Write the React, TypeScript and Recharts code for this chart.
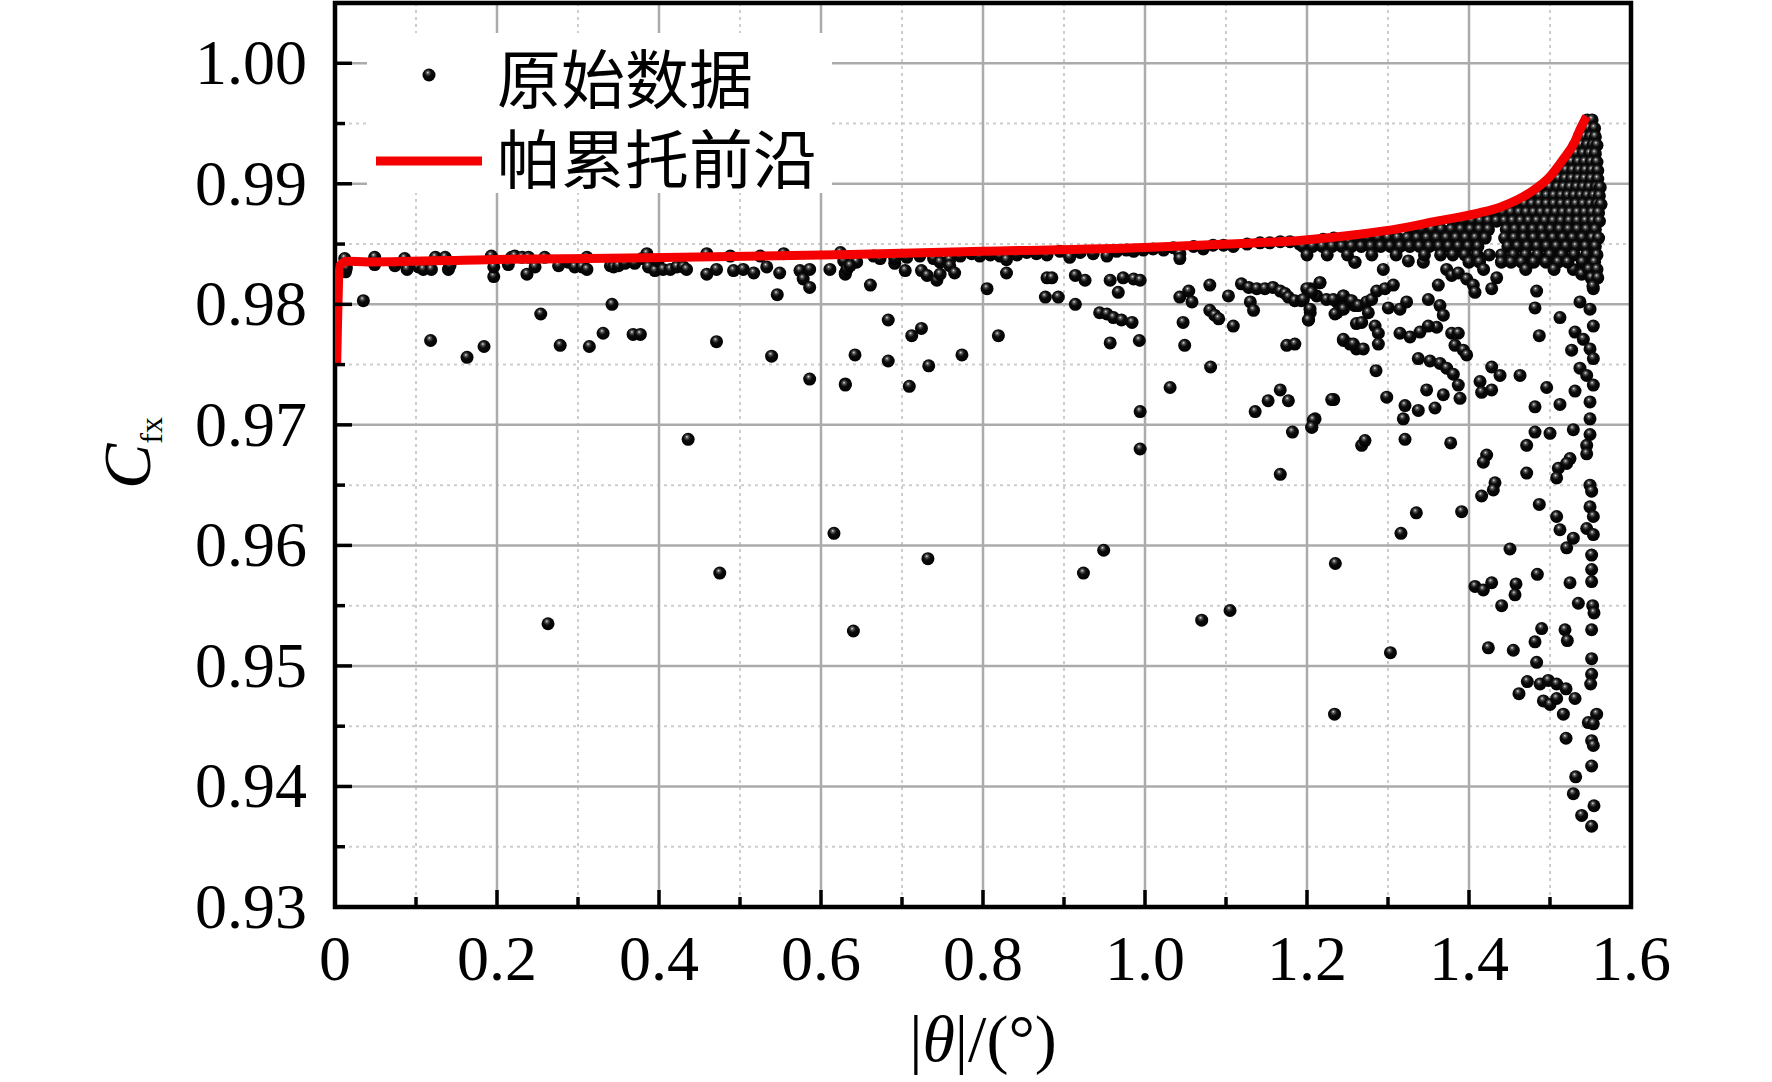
import React from "react";
import { ComposedChart, Scatter, XAxis, YAxis, CartesianGrid, ReferenceArea, Legend } from "recharts";

const W = 1772;
const H = 1082;
const SERIF = "'Liberation Serif', 'Times New Roman', serif";
const CJK = "'Noto Sans CJK SC', 'Noto Sans', sans-serif";
const RED = "#f50000";

const xMajorTicks = [0, 0.2, 0.4, 0.6, 0.8, 1.0, 1.2, 1.4, 1.6];
const xTickLabels = ["0", "0.2", "0.4", "0.6", "0.8", "1.0", "1.2", "1.4", "1.6"];
const xMinorTicks = [0.1, 0.3, 0.5, 0.7, 0.9, 1.1, 1.3, 1.5];
const yMajorTicks = [0.93, 0.94, 0.95, 0.96, 0.97, 0.98, 0.99, 1.0];
const yTickLabels = ["0.93", "0.94", "0.95", "0.96", "0.97", "0.98", "0.99", "1.00"];
const yMinorTicks = [0.935, 0.945, 0.955, 0.965, 0.975, 0.985, 0.995];

const legendLabels = ["原始数据", "帕累托前沿"];

// Pareto front (red curve)
const frontTheta = [0.002, 0.006, 0.015, 0.04, 0.2, 0.407, 0.636, 0.8, 1.0, 1.1, 1.191, 1.265, 1.315, 1.36, 1.41, 1.44, 1.475, 1.5, 1.516, 1.53, 1.537, 1.5453];
const frontCfx = [0.9749, 0.9832, 0.98358, 0.98352, 0.98372, 0.98388, 0.98413, 0.9844, 0.98471, 0.985, 0.9853, 0.98581, 0.9863, 0.9869, 0.98755, 0.9881, 0.98926, 0.9906, 0.992, 0.9934, 0.99449, 0.99559];

// points hugging the front, 0 - 0.64
const bandLeft: [number, number][] = [
  [0.012, 0.9838], [0.013, 0.9827], [0.014, 0.983], [0.049, 0.9839], [0.049, 0.9833], [0.074, 0.9832], [0.086, 0.9838],
  [0.089, 0.9829], [0.103, 0.9831], [0.109, 0.9829], [0.119, 0.9829], [0.124, 0.9839], [0.136, 0.9839], [0.14, 0.9829],
  [0.142, 0.9832], [0.193, 0.984], [0.196, 0.9823], [0.196, 0.9831], [0.214, 0.9833], [0.218, 0.9839], [0.222, 0.984],
  [0.231, 0.9839], [0.237, 0.9825], [0.239, 0.9839], [0.247, 0.9831], [0.259, 0.9839], [0.276, 0.9832], [0.288, 0.9835],
  [0.296, 0.9831], [0.305, 0.9831], [0.311, 0.9829], [0.311, 0.9839], [0.34, 0.9832], [0.344, 0.9831], [0.35, 0.9832],
  [0.358, 0.9834], [0.37, 0.9834], [0.379, 0.9838], [0.385, 0.9842], [0.387, 0.9831], [0.395, 0.9828], [0.399, 0.9836],
  [0.405, 0.9829], [0.414, 0.9829], [0.422, 0.9831], [0.43, 0.9831], [0.434, 0.9829], [0.459, 0.9825], [0.459, 0.9842],
  [0.471, 0.9829], [0.488, 0.984], [0.492, 0.9828], [0.504, 0.9829], [0.517, 0.9826], [0.525, 0.984], [0.533, 0.9831],
  [0.549, 0.9826], [0.554, 0.9842], [0.574, 0.9828], [0.578, 0.9821], [0.586, 0.9829], [0.611, 0.9829], [0.624, 0.9843],
  [0.63, 0.9826],
];

// points hugging the front, 0.63 - 1.26
const bandMid: [number, number][] = [
  [0.628, 0.9836], [0.644, 0.9835], [0.665, 0.984], [0.673, 0.9838], [0.691, 0.9834], [0.706, 0.9839], [0.722, 0.984],
  [0.739, 0.9838], [0.747, 0.9835], [0.759, 0.9837], [0.772, 0.984], [0.786, 0.9842], [0.796, 0.984], [0.809, 0.9841],
  [0.821, 0.984], [0.829, 0.9837], [0.842, 0.9841], [0.854, 0.9843], [0.866, 0.9842], [0.879, 0.9841], [0.895, 0.9844],
  [0.907, 0.9839], [0.92, 0.9843], [0.936, 0.9842], [0.953, 0.984], [0.965, 0.9844], [0.977, 0.9845], [0.986, 0.9844],
  [0.998, 0.9845], [1.01, 0.9846], [1.023, 0.9845], [1.035, 0.9847], [1.043, 0.9842], [1.06, 0.9848], [1.072, 0.9846],
  [1.084, 0.9849], [1.097, 0.9849], [1.109, 0.9848], [1.126, 0.985], [1.142, 0.9851], [1.154, 0.9851], [1.167, 0.9852],
  [1.179, 0.9852], [1.191, 0.985], [1.208, 0.9851], [1.22, 0.9854], [1.233, 0.9855], [1.245, 0.9854], [1.253, 0.9852],
  [1.259, 0.9835],
];

// scattered points, left part
const sparseLow: [number, number][] = [
  [0.035, 0.9803], [0.118, 0.977], [0.163, 0.9756], [0.184, 0.9765], [0.254, 0.9792], [0.263, 0.9535], [0.278, 0.9766],
  [0.314, 0.9765], [0.331, 0.9776], [0.342, 0.98], [0.368, 0.9775], [0.377, 0.9775], [0.436, 0.9688], [0.471, 0.9769],
  [0.475, 0.9577], [0.539, 0.9757], [0.546, 0.9808], [0.586, 0.9738], [0.586, 0.9814], [0.616, 0.961], [0.63, 0.9734],
  [0.64, 0.9529], [0.732, 0.9589], [0.924, 0.9577], [0.949, 0.9596], [1.07, 0.9538], [1.105, 0.9546], [1.167, 0.9659],
  [1.235, 0.9585], [1.316, 0.961], [1.335, 0.9627], [1.303, 0.9511], [1.234, 0.946],
];

// scattered points, middle part
const midScatter: [number, number][] = [
  [0.63, 0.9825], [0.632, 0.9829], [0.636, 0.9832], [0.661, 0.9816], [0.691, 0.9838], [0.704, 0.9828], [0.724, 0.9828],
  [0.731, 0.9824], [0.743, 0.982], [0.747, 0.9825], [0.759, 0.9832], [0.765, 0.9826], [0.805, 0.9813], [0.829, 0.9826],
  [0.879, 0.9822], [0.885, 0.9822], [0.877, 0.9806], [0.893, 0.9806], [0.914, 0.98], [0.914, 0.9824], [0.926, 0.982],
  [0.957, 0.982], [0.967, 0.981], [0.973, 0.9822], [0.986, 0.9821], [0.994, 0.982], [0.944, 0.9793], [0.953, 0.9792],
  [0.961, 0.9789], [0.971, 0.9787], [0.984, 0.9785], [0.957, 0.9768], [0.993, 0.977], [0.819, 0.9774], [0.683, 0.9787],
  [0.712, 0.9774], [0.724, 0.978], [0.642, 0.9758], [0.683, 0.9753], [0.733, 0.9749], [0.774, 0.9758], [0.63, 0.9733],
  [0.709, 0.9732], [0.994, 0.9711], [0.994, 0.968], [1.031, 0.9731], [1.043, 0.9838], [1.043, 0.9806], [1.054, 0.9811],
  [1.058, 0.9802], [1.047, 0.9785], [1.049, 0.9766], [1.08, 0.9816], [1.08, 0.9795], [1.086, 0.9791], [1.091, 0.9788],
  [1.103, 0.9807], [1.109, 0.9782], [1.081, 0.9748], [1.119, 0.9817], [1.128, 0.9814], [1.138, 0.9813], [1.148, 0.9813],
  [1.158, 0.9814], [1.167, 0.9811], [1.173, 0.9809], [1.177, 0.9806], [1.185, 0.9803], [1.193, 0.9803], [1.13, 0.9802],
  [1.134, 0.9795], [1.204, 0.9813], [1.216, 0.9818], [1.212, 0.9807], [1.224, 0.9804], [1.237, 0.9802], [1.245, 0.9807],
  [1.253, 0.9803], [1.259, 0.9799], [1.237, 0.9793], [1.245, 0.9796], [1.204, 0.9793], [1.202, 0.9787], [1.175, 0.9766],
  [1.185, 0.9767], [1.245, 0.977], [1.253, 0.9767], [1.261, 0.9763], [1.261, 0.9784], [1.167, 0.9729], [1.152, 0.972],
  [1.177, 0.972], [1.136, 0.9711], [1.233, 0.9721], [1.21, 0.9705], [1.206, 0.9698], [1.182, 0.9694],
];

// scattered points, right part
const rightScatter: [number, number][] = [
  [1.2593, 0.9835], [1.2942, 0.9829], [1.3251, 0.9836], [1.3436, 0.9835], [1.3724, 0.9829], [1.3786, 0.9824], [1.3868, 0.9826],
  [1.3971, 0.9821], [1.4053, 0.9816], [1.4074, 0.981], [1.428, 0.9813], [1.4342, 0.9822], [1.3621, 0.9816], [1.4712, 0.9832],
  [1.4835, 0.9811], [1.4815, 0.9797], [1.5123, 0.9789], [1.4868, 0.9774], [1.5288, 0.9829], [1.5391, 0.9825], [1.5514, 0.9821],
  [1.5535, 0.9813], [1.537, 0.9802], [1.5494, 0.9796], [1.5535, 0.9782], [1.5309, 0.9777], [1.5412, 0.9771], [1.5494, 0.9763],
  [1.5267, 0.9762], [1.5535, 0.9755], [1.537, 0.9747], [1.5453, 0.9741], [1.5535, 0.9733], [1.5309, 0.9728], [1.5494, 0.9719],
  [1.5494, 0.9705], [1.5494, 0.9692], [1.5453, 0.9683], [1.5453, 0.9676],
  [1.1996, 0.9813], [1.216, 0.9818], [1.2058, 0.981], [1.2325, 0.9804], [1.2449, 0.9807], [1.2551, 0.9803], [1.2634, 0.9799],
  [1.2737, 0.9802], [1.2798, 0.9804], [1.286, 0.9811], [1.2963, 0.9813], [1.3066, 0.9816], [1.1955, 0.9804], [1.2037, 0.9796],
  [1.2016, 0.9787], [1.2346, 0.9792], [1.2757, 0.9793], [1.3004, 0.9797], [1.3148, 0.9796], [1.323, 0.9802], [1.3498, 0.9804],
  [1.3642, 0.9799], [1.3683, 0.9791], [1.3601, 0.9781], [1.3498, 0.9782], [1.3395, 0.9777], [1.3272, 0.9773], [1.3148, 0.9776],
  [1.2675, 0.9785], [1.284, 0.9782], [1.2881, 0.9776], [1.2881, 0.9767], [1.2449, 0.9771], [1.2572, 0.9767], [1.2695, 0.9763],
  [1.3786, 0.9776], [1.3868, 0.9776], [1.3827, 0.9766], [1.393, 0.9762], [1.3971, 0.9758], [1.3374, 0.9755], [1.3519, 0.9753],
  [1.3642, 0.9751], [1.3724, 0.9747], [1.3807, 0.9742], [1.3868, 0.9733], [1.3889, 0.9722], [1.2852, 0.9745], [1.3477, 0.9729],
  [1.3683, 0.9725], [1.2984, 0.9723], [1.321, 0.9716], [1.3189, 0.9705], [1.3374, 0.9712], [1.358, 0.9714], [1.4136, 0.9736],
  [1.428, 0.9748], [1.4383, 0.9741], [1.4156, 0.9727], [1.428, 0.9729], [1.463, 0.9741], [1.4959, 0.9731], [1.4815, 0.9715],
  [1.5123, 0.9717], [1.2305, 0.9721], [1.2078, 0.9704], [1.2058, 0.9698], [1.2675, 0.9683], [1.2716, 0.9687], [1.321, 0.9688],
  [1.3774, 0.9685], [1.4218, 0.9675], [1.4177, 0.9669], [1.4815, 0.9694], [1.5, 0.9693], [1.5288, 0.9696], [1.4712, 0.9683],
  [1.5247, 0.9672], [1.5103, 0.9664], [1.4712, 0.966],
  [1.5206, 0.9668], [1.5082, 0.9656], [1.4321, 0.9652], [1.43, 0.9646], [1.4156, 0.9641], [1.5494, 0.965], [1.5514, 0.9645],
  [1.3909, 0.9628], [1.4868, 0.9634], [1.5494, 0.9632], [1.5535, 0.9624], [1.5082, 0.9624], [1.5123, 0.9613], [1.5453, 0.9614],
  [1.5535, 0.9609], [1.5288, 0.9606], [1.5206, 0.9598], [1.4506, 0.9597], [1.5514, 0.9592], [1.5514, 0.958], [1.5514, 0.957],
  [1.4844, 0.9576], [1.5247, 0.9569], [1.4074, 0.9566], [1.4177, 0.9563], [1.428, 0.9569], [1.458, 0.9568], [1.4568, 0.9559],
  [1.4403, 0.955], [1.535, 0.9552], [1.5527, 0.955], [1.5543, 0.9544], [1.5514, 0.953], [1.4897, 0.9531], [1.4815, 0.952],
  [1.5185, 0.953], [1.5214, 0.9521], [1.4239, 0.9515], [1.4547, 0.9513], [1.4835, 0.9503], [1.5514, 0.9506], [1.5514, 0.9493],
  [1.5502, 0.9485], [1.472, 0.9487], [1.4617, 0.9477], [1.4877, 0.9485], [1.4979, 0.9488], [1.5082, 0.9485], [1.5198, 0.9481],
  [1.5309, 0.9473], [1.4918, 0.9471], [1.5, 0.9468], [1.5082, 0.9473], [1.5165, 0.946], [1.5473, 0.9453], [1.5576, 0.946],
  [1.5535, 0.9452], [1.5198, 0.944], [1.5514, 0.9438], [1.5535, 0.9434], [1.5514, 0.9417], [1.5317, 0.9408], [1.5288, 0.9394],
  [1.5543, 0.9384], [1.5391, 0.9376], [1.5514, 0.9367],
];

// dense cluster under the steep end of the front: [cfx, theta values in that row]
const clusterRows: [number, number[]][] = [
  [0.9953, [1.546, 1.552]],
  [0.9946, [1.541, 1.548, 1.555]],
  [0.9939, [1.536, 1.543, 1.55, 1.556]],
  [0.9932, [1.531, 1.539, 1.546, 1.553, 1.558]],
  [0.9925, [1.525, 1.533, 1.541, 1.549, 1.556]],
  [0.9918, [1.519, 1.527, 1.535, 1.543, 1.551, 1.558]],
  [0.9911, [1.512, 1.52, 1.528, 1.536, 1.544, 1.552, 1.559]],
  [0.9904, [1.503, 1.511, 1.519, 1.527, 1.535, 1.543, 1.551, 1.559]],
  [0.9897, [1.492, 1.5, 1.509, 1.517, 1.525, 1.533, 1.541, 1.549, 1.557, 1.562]],
  [0.989, [1.478, 1.487, 1.496, 1.505, 1.514, 1.522, 1.53, 1.538, 1.546, 1.554, 1.561]],
  [0.9883, [1.46, 1.469, 1.478, 1.487, 1.496, 1.505, 1.514, 1.523, 1.532, 1.541, 1.55, 1.558, 1.563]],
  [0.9876, [1.432, 1.442, 1.452, 1.462, 1.471, 1.48, 1.489, 1.498, 1.507, 1.516, 1.525, 1.534, 1.543, 1.552, 1.56]],
  [0.9869, [1.38, 1.392, 1.404, 1.414, 1.424, 1.434, 1.444, 1.454, 1.464, 1.474, 1.484, 1.494, 1.504, 1.514, 1.524, 1.534, 1.544, 1.553, 1.561]],
  [0.9862, [1.33, 1.342, 1.354, 1.366, 1.378, 1.39, 1.402, 1.413, 1.424, 1.446, 1.457, 1.468, 1.479, 1.49, 1.501, 1.512, 1.523, 1.534, 1.545, 1.556]],
  [0.9855, [1.262, 1.275, 1.288, 1.3, 1.312, 1.324, 1.336, 1.348, 1.36, 1.372, 1.384, 1.396, 1.408, 1.42, 1.444, 1.456, 1.468, 1.48, 1.492, 1.504, 1.516, 1.528, 1.54, 1.552, 1.56]],
  [0.9848, [1.195, 1.207, 1.219, 1.231, 1.243, 1.255, 1.267, 1.279, 1.291, 1.303, 1.315, 1.327, 1.339, 1.351, 1.363, 1.375, 1.387, 1.399, 1.411, 1.448, 1.46, 1.472, 1.484, 1.496, 1.508, 1.52, 1.532, 1.544, 1.556]],
  [0.9841, [1.2, 1.225, 1.25, 1.28, 1.31, 1.345, 1.365, 1.38, 1.395, 1.41, 1.425, 1.44, 1.455, 1.47, 1.485, 1.5, 1.515, 1.53, 1.545, 1.558]],
  [0.9835, [1.4, 1.413, 1.44, 1.452, 1.465, 1.48, 1.495, 1.51, 1.522, 1.54, 1.555]],
  [0.9829, [1.418, 1.47, 1.505, 1.548, 1.558]],
  [0.9822, [1.551, 1.559]],
  [0.9815, [1.553]],
];

const rawData = [
  ...bandLeft, ...bandMid, ...sparseLow, ...midScatter, ...rightScatter,
  ...clusterRows.flatMap(([cfx, thetas]) => thetas.map((t) => [t, cfx] as [number, number])),
].map(([theta, cfx]) => ({ theta, cfx }));

const frontData = frontTheta.map((theta, i) => ({ theta, cfx: frontCfx[i] }));

const near = (a: number, b: number) => Math.abs(a - b) < 1e-6;

function XTick(props: any) {
  const { x, y, payload } = props;
  const i = xMajorTicks.findIndex((t) => near(t, payload.value));
  const major = i >= 0;
  return (
    <g>
      <line x1={x} x2={x} y1={y} y2={y - (major ? 17 : 10)} stroke="#000" strokeWidth={3.5} />
      {major && (
        <text x={x} y={y + 73} textAnchor="middle" fontFamily={SERIF} fontSize={64} fill="#000">
          {xTickLabels[i]}
        </text>
      )}
    </g>
  );
}

function YTick(props: any) {
  const { x, y, payload } = props;
  const i = yMajorTicks.findIndex((t) => near(t, payload.value));
  const major = i >= 0;
  return (
    <g>
      <line x1={x} x2={x + (major ? 17 : 10)} y1={y} y2={y} stroke="#000" strokeWidth={3.5} />
      {major && (
        <text x={x - 28} y={y + 21} textAnchor="end" fontFamily={SERIF} fontSize={64} fill="#000">
          {yTickLabels[i]}
        </text>
      )}
    </g>
  );
}

const Ball = (p: any) => <circle cx={p.cx} cy={p.cy} r={6.5} fill="url(#ball)" />;
const NoDot = () => <g />;

function LegendBox() {
  return (
    <div style={{ width: 465, height: 160, background: "#fff", position: "relative" }}>
      <svg width={465} height={160} style={{ position: "absolute", left: 0, top: 0, overflow: "visible" }}>
        <circle cx={62} cy={42} r={6.5} fill="url(#ball)" />
        <line x1={9} x2={115} y1={128} y2={128} stroke={RED} strokeWidth={9} />
        <text x={130} y={42} dominantBaseline="central" fontFamily={CJK} fontSize={64} fill="#000">
          {legendLabels[0]}
        </text>
        <text x={130} y={122} dominantBaseline="central" fontFamily={CJK} fontSize={64} fill="#000">
          {legendLabels[1]}
        </text>
      </svg>
    </div>
  );
}

export default function App() {
  return (
    <div style={{ position: "absolute", left: 0, top: 0, width: W, height: H, background: "#fff" }}>
      <svg width={0} height={0} style={{ position: "absolute" }}>
        <defs>
          <radialGradient id="ball" cx="0.45" cy="0.4" r="0.6" fx="0.4" fy="0.3">
            <stop offset="0" stopColor="#e6e6e6" />
            <stop offset="0.18" stopColor="#5a5a5a" />
            <stop offset="0.45" stopColor="#0c0c0c" />
            <stop offset="1" stopColor="#000" />
          </radialGradient>
        </defs>
      </svg>
      <ComposedChart width={W} height={H} margin={{ top: 3, right: 141, bottom: 75, left: 135 }}>
        <CartesianGrid
          stroke="#cdcdcd"
          strokeWidth={2}
          strokeDasharray="3 4"
          horizontalValues={yMinorTicks}
          verticalValues={xMinorTicks}
        />
        <CartesianGrid
          stroke="#ababab"
          strokeWidth={2.5}
          horizontalValues={yMajorTicks.slice(1)}
          verticalValues={xMajorTicks.slice(1, -1)}
        />
        <XAxis
          type="number"
          dataKey="theta"
          domain={[0, 1.6]}
          ticks={[...xMajorTicks, ...xMinorTicks].sort((a, b) => a - b)}
          interval={0}
          allowDataOverflow
          tickSize={0}
          tickMargin={0}
          tickLine={false}
          axisLine={false}
          tick={<XTick />}
          height={100}
          label={{
            content: () => (
              <text x={983} y={1061} textAnchor="middle" fontFamily={SERIF} fontSize={66} fill="#000">
                <tspan>|</tspan>
                <tspan fontStyle="italic">θ</tspan>
                <tspan>|/(°)</tspan>
              </text>
            ),
          }}
        />
        <YAxis
          type="number"
          dataKey="cfx"
          domain={[0.93, 1.005]}
          ticks={[...yMajorTicks, ...yMinorTicks].sort((a, b) => a - b)}
          interval={0}
          allowDataOverflow
          tickSize={0}
          tickMargin={0}
          tickLine={false}
          axisLine={false}
          tick={<YTick />}
          width={200}
          label={{
            content: () => (
              <text transform="translate(150,453) rotate(-90)" textAnchor="middle" fontFamily={SERIF} fill="#000">
                <tspan fontStyle="italic" fontSize={68}>C</tspan>
                <tspan fontSize={32} dy={12}>fx</tspan>
              </text>
            ),
          }}
        />
        <Scatter data={rawData} dataKey="cfx" shape={Ball} isAnimationActive={false} />
        <Scatter
          data={frontData}
          dataKey="cfx"
          shape={NoDot}
          line={{ stroke: RED, strokeWidth: 9, fill: "none" }}
          lineType="joint"
          lineJointType="monotoneX"
          isAnimationActive={false}
        />
        <ReferenceArea x1={0} x2={1.6} y1={0.93} y2={1.005} fill="none" stroke="#000" strokeWidth={4.5} ifOverflow="visible" />
        <Legend
          layout="horizontal"
          verticalAlign="middle"
          align="center"
          wrapperStyle={{ left: 367, top: 33, width: 465, height: 160 }}
          content={() => <LegendBox />}
        />
      </ComposedChart>
    </div>
  );
}
